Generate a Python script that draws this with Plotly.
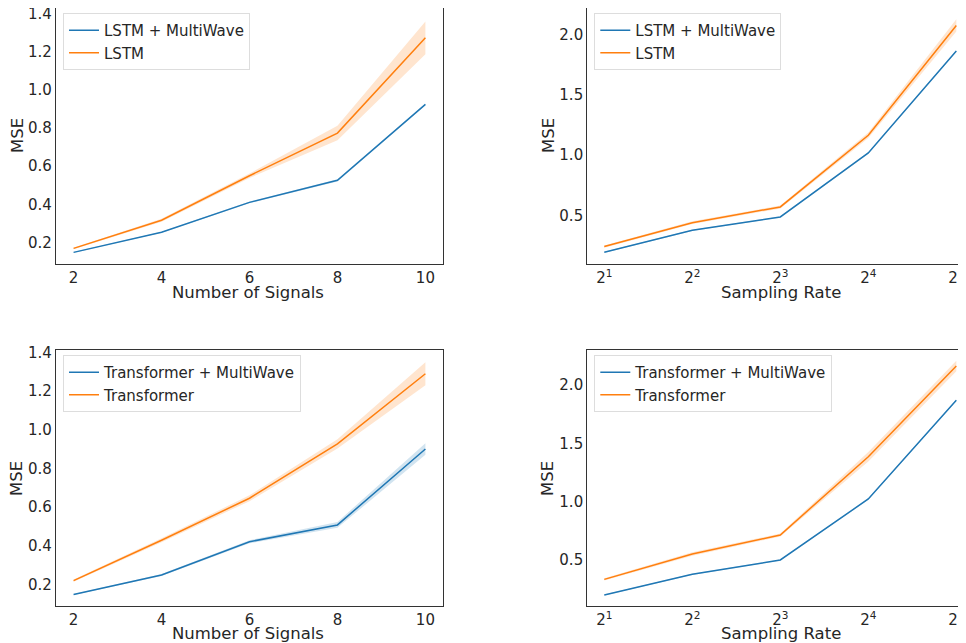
import math
import plotly.graph_objects as go

# ---------------- data ----------------
signals = [2, 4, 6, 8, 10]
rates = [2, 4, 8, 16, 32]
rate_ticktext = ["2<sup>1</sup>", "2<sup>2</sup>", "2<sup>3</sup>", "2<sup>4</sup>", "2<sup>5</sup>"]
sig_ticks = [0.2, 0.4, 0.6, 0.8, 1.0, 1.2, 1.4]
rate_ticks = [0.5, 1.0, 1.5, 2.0]

lstm_mw_sig = [0.147, 0.253, 0.410, 0.526, 0.925]
lstm_mw_sig_err = [0.002, 0.003, 0.004, 0.006, 0.004]
lstm_sig = [0.168, 0.316, 0.550, 0.774, 1.275]
lstm_sig_err = [0.004, 0.008, 0.012, 0.038, 0.086]

lstm_mw_rate = [0.197, 0.379, 0.489, 1.019, 1.862]
lstm_mw_rate_err = [0.004, 0.005, 0.005, 0.006, 0.006]
lstm_rate = [0.244, 0.442, 0.572, 1.165, 2.074]
lstm_rate_err = [0.010, 0.012, 0.012, 0.022, 0.050]

tr_mw_sig = [0.147, 0.248, 0.420, 0.507, 0.900]
tr_mw_sig_err = [0.003, 0.005, 0.008, 0.015, 0.030]
tr_sig = [0.219, 0.428, 0.645, 0.926, 1.289]
tr_sig_err = [0.006, 0.010, 0.015, 0.024, 0.060]

tr_mw_rate = [0.200, 0.377, 0.500, 1.023, 1.869]
tr_mw_rate_err = [0.004, 0.005, 0.005, 0.006, 0.006]
tr_rate = [0.334, 0.551, 0.714, 1.385, 2.163]
tr_rate_err = [0.010, 0.015, 0.012, 0.040, 0.045]

BLUE = "#1f77b4"
ORANGE = "#ff7f0e"
BLUE_FILL = "rgba(31,119,180,0.2)"
ORANGE_FILL = "rgba(255,127,14,0.2)"
FONT = "DejaVu Sans"
TXT = "#262626"
OFF = 8                       # page body margin
W, H = 966 - OFF, 643 - OFF   # figure fills the rest of the window

fig = go.Figure()


def px_x(a, b):
    return [(a - OFF) / W, (b - OFF) / W]


def px_y(top, bottom):
    return [1 - (bottom - OFF) / H, 1 - (top - OFF) / H]


def pos(x, y):
    return (x - OFF) / W, 1 - (y - OFF) / H


panels = [
    dict(n=1, x=signals, s=[("LSTM + MultiWave", lstm_mw_sig, lstm_mw_sig_err, BLUE, BLUE_FILL),
                            ("LSTM", lstm_sig, lstm_sig_err, ORANGE, ORANGE_FILL)],
         xd=px_x(56, 443), yd=px_y(8, 264), yr=[0.086, 1.4315], xt="Number of Signals", log=False,
         xtpos=(248, 292), ytpos=(17, 136)),
    dict(n=2, x=rates, s=[("LSTM + MultiWave", lstm_mw_rate, lstm_mw_rate_err, BLUE, BLUE_FILL),
                          ("LSTM", lstm_rate, lstm_rate_err, ORANGE, ORANGE_FILL)],
         xd=px_x(587.3, 966), yd=px_y(8, 264), yr=[0.10, 2.218], xt="Sampling Rate", log=True,
         xtpos=(781, 292), ytpos=(548, 136)),
    dict(n=3, x=signals, s=[("Transformer + MultiWave", tr_mw_sig, tr_mw_sig_err, BLUE, BLUE_FILL),
                            ("Transformer", tr_sig, tr_sig_err, ORANGE, ORANGE_FILL)],
         xd=px_x(56, 443), yd=px_y(350, 606.3), yr=[0.086, 1.412], xt="Number of Signals", log=False,
         xtpos=(248, 633), ytpos=(17, 479)),
    dict(n=4, x=rates, s=[("Transformer + MultiWave", tr_mw_rate, tr_mw_rate_err, BLUE, BLUE_FILL),
                          ("Transformer", tr_rate, tr_rate_err, ORANGE, ORANGE_FILL)],
         xd=px_x(587.3, 966), yd=px_y(350, 606.3), yr=[0.103, 2.30], xt="Sampling Rate", log=True,
         xtpos=(781, 633), ytpos=(548, 479)),
]

layout = dict(
    width=W, height=H, margin=dict(l=0, r=0, t=0, b=0, pad=0),
    paper_bgcolor="white", plot_bgcolor="white",
    font=dict(family=FONT, size=15, color=TXT),
    showlegend=True,
)
annotations = []

for p in panels:
    n = p["n"]
    xa = "x" if n == 1 else f"x{n}"
    ya = "y" if n == 1 else f"y{n}"
    leg = "legend" if n == 1 else f"legend{n}"
    for name, vals, err, col, fill in p["s"]:
        up = [v + e for v, e in zip(vals, err)]
        lo = [v - e for v, e in zip(vals, err)]
        fig.add_trace(go.Scatter(x=p["x"] + p["x"][::-1], y=up + lo[::-1], mode="lines",
                                 fill="toself", fillcolor=fill, line=dict(width=0, color=fill),
                                 hoverinfo="skip", showlegend=False, xaxis=xa, yaxis=ya))
        fig.add_trace(go.Scatter(x=p["x"], y=vals, mode="lines", name=name,
                                 line=dict(color=col, width=1.5), xaxis=xa, yaxis=ya, legend=leg))

    axkey_x = "xaxis" if n == 1 else f"xaxis{n}"
    axkey_y = "yaxis" if n == 1 else f"yaxis{n}"
    xcommon = dict(domain=p["xd"], anchor=ya, showgrid=False, zeroline=False, automargin=False,
                   showline=True, linecolor="#333333", linewidth=1.2, mirror=True,
                   ticks="", ticklen=0, ticklabeloverflow="allow",
                   tickfont=dict(size=15, color=TXT, family=FONT))
    if p["log"]:
        xcommon.update(type="log", range=[0.807 * math.log10(2), 5.11 * math.log10(2)],
                       tickmode="array", tickvals=rates, ticktext=rate_ticktext)
    else:
        xcommon.update(range=[1.6, 10.4], tickmode="array", tickvals=signals)
    layout[axkey_x] = xcommon
    yt = rate_ticks if p["log"] else sig_ticks
    ycommon = dict(domain=p["yd"], anchor=xa, range=p["yr"], showgrid=False, zeroline=False,
                   automargin=False, showline=True, linecolor="#333333", linewidth=1.2,
                   mirror=(not p["log"]), ticks="", ticklabeloverflow="allow",
                   tickfont=dict(size=15, color=TXT, family=FONT),
                   tickmode="array", tickvals=yt, ticktext=[f"{v:.1f}" for v in yt])
    layout[axkey_y] = ycommon
    layout[leg] = dict(x=p["xd"][0] + 7 / W, y=p["yd"][1] - 5 / H, xanchor="left", yanchor="top",
                       bgcolor="rgba(255,255,255,0.8)", bordercolor="#dddddd", borderwidth=1,
                       font=dict(size=15, color=TXT, family=FONT), itemwidth=30,
                       tracegroupgap=0)
    ax, ay = pos(*p["xtpos"])
    annotations.append(dict(text=p["xt"], x=ax, y=ay,
                            xref="paper", yref="paper", xanchor="center", yanchor="middle",
                            showarrow=False, font=dict(size=16.5, color=TXT, family=FONT)))
    bx, by = pos(*p["ytpos"])
    annotations.append(dict(text="MSE", x=bx, y=by,
                            xref="paper", yref="paper", xanchor="center", yanchor="middle",
                            textangle=-90, showarrow=False,
                            font=dict(size=16.5, color=TXT, family=FONT)))

layout["annotations"] = annotations
fig.update_layout(**layout)
fig.write_html("out.html")
